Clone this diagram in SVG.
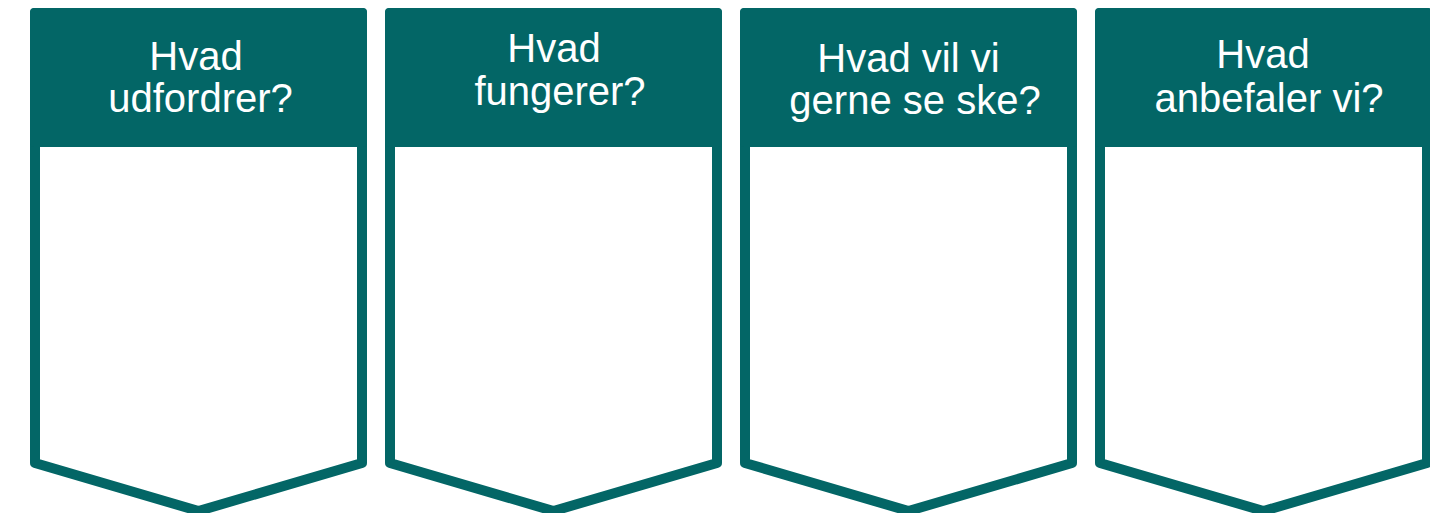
<svg xmlns="http://www.w3.org/2000/svg" width="1430" height="513" viewBox="0 0 1430 513">
  <defs>
    <style>
      .outline { fill: #ffffff; stroke: #036666; stroke-width: 10; stroke-linejoin: round; }
      .header { fill: #036666; }
      .label { fill: #ffffff; font-family: "Liberation Sans", Arial, sans-serif; font-size: 40px; text-anchor: middle; }
    </style>
    <path id="chev" d="M35,13 H362 V463 L198.5,511 L35,463 Z"/>
  </defs>
  <rect width="1430" height="513" fill="#ffffff"/>
  <g id="box1">
    <use href="#chev" class="outline"/>
    <rect class="header" x="30" y="8" width="337" height="139" rx="4"/>
    <text class="label" x="196" y="69.5">Hvad</text>
    <text class="label" x="200.5" y="111.5">udfordrer?</text>
  </g>
  <g id="box2" transform="translate(355,0)">
    <use href="#chev" class="outline"/>
    <rect class="header" x="30" y="8" width="337" height="139" rx="4"/>
    <text class="label" x="199" y="62">Hvad</text>
    <text class="label" x="205" y="105">fungerer?</text>
  </g>
  <g id="box3" transform="translate(710,0)">
    <use href="#chev" class="outline"/>
    <rect class="header" x="30" y="8" width="337" height="139" rx="4"/>
    <text class="label" x="198.5" y="72">Hvad vil vi</text>
    <text class="label" x="205" y="114">gerne se ske?</text>
  </g>
  <g id="box4" transform="translate(1065,0)">
    <use href="#chev" class="outline"/>
    <rect class="header" x="30" y="8" width="337" height="139" rx="4"/>
    <text class="label" x="198" y="67.5">Hvad</text>
    <text class="label" x="204" y="111.5">anbefaler vi?</text>
  </g>
  <g id="connectors"/>
</svg>
